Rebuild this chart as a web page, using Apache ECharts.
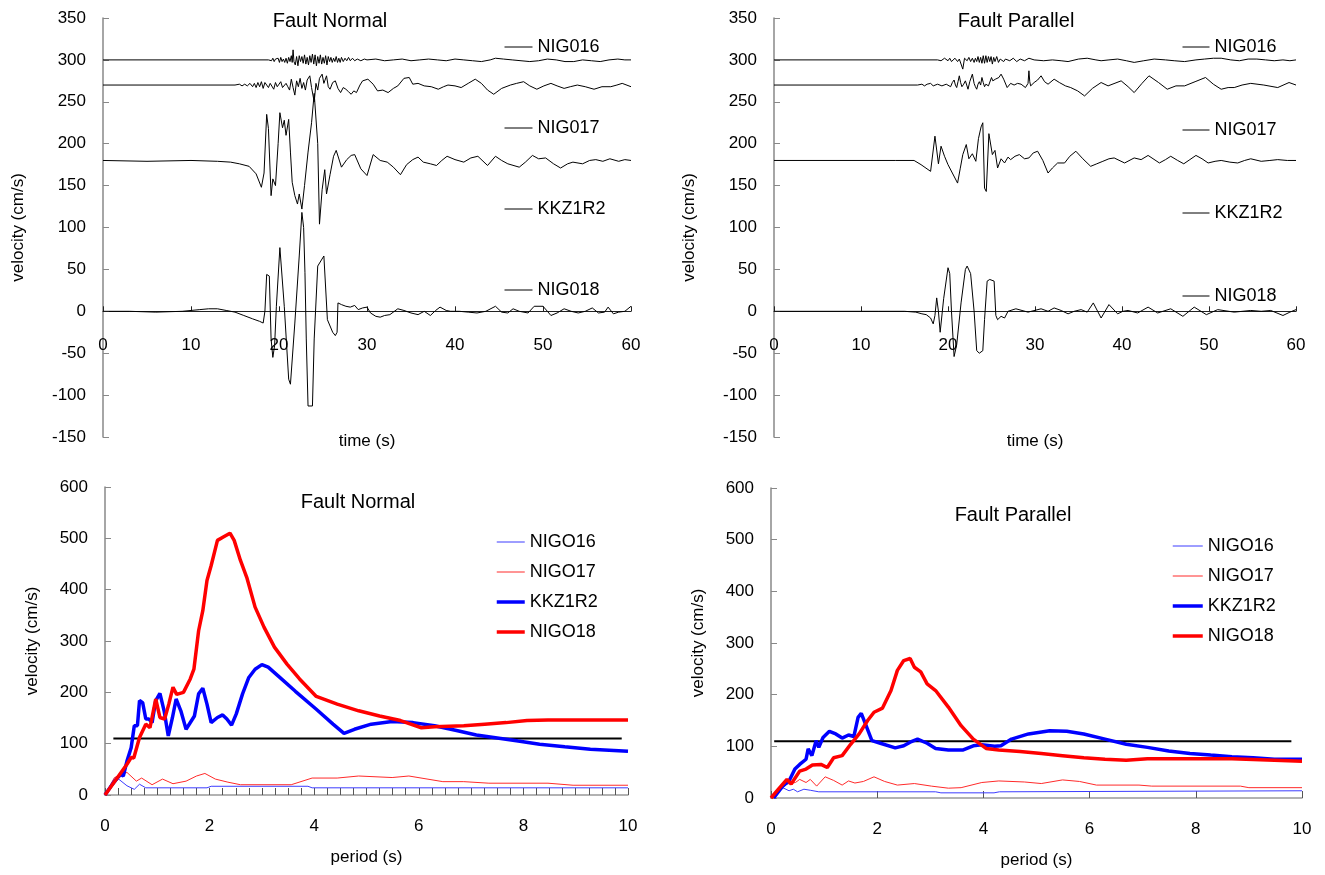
<!DOCTYPE html>
<html><head><meta charset="utf-8">
<script src="https://cdn.jsdelivr.net/npm/echarts/dist/echarts.min.js"></script>
<style>html,body{margin:0;padding:0;background:#fff;}#c{width:1325px;height:875px;}</style>
</head><body><div id="c"></div>
<script>
// ---------- DATA ----------
// Velocity time histories [time (s), velocity (cm/s)] relative to each trace's baseline
const fnNIG016 = [[0,0],[18.8,0],[19.0,1],[19.15,-1],[19.3,2],[19.45,-2],[19.6,1],[19.75,-1],[19.9,2],[20.05,-3],[20.2,3],[20.35,-2],[20.5,1],[20.65,-3],[20.8,2],[20.95,-4],[21.1,3],[21.25,-2],[21.4,5],[21.5,-3],[21.6,12],[21.7,-2],[21.85,-6],[22.0,4],[22.15,-7],[22.3,5],[22.45,-2],[22.6,4],[22.75,-4],[22.9,6],[23.05,-5],[23.2,3],[23.35,-6],[23.5,5],[23.65,-3],[23.8,7],[23.95,-5],[24.1,6],[24.25,-7],[24.4,4],[24.55,-4],[24.7,6],[24.85,-5],[25.0,3],[25.15,-4],[25.3,5],[25.45,-6],[25.6,4],[25.75,-2],[25.9,3],[26.05,-3],[26.2,2],[26.35,-2],[26.5,4],[26.65,-3],[26.8,2],[26.95,-3],[27.1,3],[27.3,-2],[27.5,2],[27.7,-1],[27.9,3],[28.1,-1],[28.35,2],[28.6,-1],[28.9,1],[29.3,-1],[29.7,1],[30,0],[31,1],[32,-1],[33,0],[34,1],[35,-1],[36,0],[37,1],[38,0],[39,-1],[40,1],[41,0],[42,-1],[43,-2],[44,0],[44.6,2],[45.5,1],[46.5,0],[47.5,-1],[48.5,-2],[49.5,-1],[50.5,1],[51.5,0],[52.5,-2],[53.5,-2],[54.5,0],[55.5,-1],[56.5,-2],[57.5,0],[58.5,1],[59.3,0],[60,0]];
const fnNIG017 = [[0,0],[15,0],[15.5,1],[15.8,-1],[16.1,1],[16.4,-1],[16.7,2],[17,-2],[17.2,2],[17.4,-3],[17.6,3],[17.8,-2],[18.0,4],[18.2,-4],[18.4,3],[18.6,5],[18.8,-3],[19.0,2],[19.2,4],[19.4,-5],[19.6,3],[19.8,-2],[20.0,1],[20.2,4],[20.4,-3],[20.6,-4],[20.8,2],[21.0,-2],[21.2,-6],[21.4,7],[21.6,-3],[21.8,-12],[22.0,5],[22.2,-2],[22.4,8],[22.6,-4],[22.8,3],[23.0,-6],[23.2,6],[23.5,11],[23.7,-3],[24.0,-20],[24.2,2],[24.4,-6],[24.6,8],[24.9,13],[25.1,2],[25.4,11],[25.6,-2],[25.8,-5],[26.1,3],[26.4,5],[26.7,-4],[27.0,-9],[27.3,-3],[27.6,-5],[27.9,-8],[28.2,-11],[28.5,-7],[28.8,-9],[29.2,0],[29.5,5],[30.1,7],[30.7,1],[31.2,-7],[31.8,-6],[32.4,-9],[33.0,-4],[33.5,-1],[34.2,8],[34.8,9],[35.2,1],[35.8,2],[36.5,-1],[37.3,-2],[38.1,-5],[38.7,-2],[39.2,0],[40.0,-1],[40.7,-3],[41.5,2],[42.3,7],[43.0,2],[43.7,-6],[44.4,-11],[45.3,-4],[46.3,0],[47.0,2],[47.8,4],[48.5,-1],[49.3,-5],[50.1,-1],[50.9,2],[51.6,-1],[52.4,-4],[53.1,-2],[53.9,0],[54.8,-2],[55.8,-5],[56.7,-2],[57.7,-2],[58.4,0],[59,2],[60,-2]];
const fnKKZ1R2 = [[0,0],[5,-1],[10,0],[13,-1],[14.5,-2],[15.5,-4],[16.6,-7],[17.4,-16],[18.0,-32],[18.3,-15],[18.6,55],[18.8,38],[19.1,-42],[19.3,-22],[19.6,-30],[19.9,20],[20.1,57],[20.4,39],[20.6,48],[20.8,30],[21.1,49],[21.3,10],[21.5,-26],[21.8,-42],[22.1,-52],[22.3,-40],[22.6,-58],[22.9,-30],[23.3,10],[23.7,45],[24.0,80],[24.2,78],[24.4,20],[24.6,-76],[24.9,-35],[25.2,-11],[25.4,-40],[25.8,-17],[26.2,5],[26.5,12],[27.1,-8],[27.7,1],[28.2,6],[28.6,7],[29.3,-10],[30,-18],[30.7,7],[31.5,0],[32.3,-2],[33.0,-8],[33.8,-17],[34.5,-5],[35.2,1],[35.8,4],[36.4,-2],[37.2,-4],[37.9,-6],[38.5,0],[39.1,5],[40,1],[41,-2],[41.8,3],[42.6,5],[43.7,-6],[44.6,5],[45.3,0],[46,-4],[47.3,-8],[48,-2],[48.8,6],[49.5,2],[50.3,3],[51.2,-4],[52,-9],[52.8,-4],[53.4,-2],[54.5,-4],[55.3,0],[56,1],[56.8,-1],[57.6,2],[58.6,-1],[59.3,1],[60,0]];
const fnNIG018 = [[0,0],[3,0],[6,-1],[9,0],[10,1],[11,2],[12,3],[13,3],[14,1],[15,-1],[16,-5],[17,-9],[17.8,-12],[18.2,-14],[18.4,0],[18.6,44],[18.9,42],[19.1,-33],[19.3,-55],[19.5,-41],[19.7,6],[20.1,76],[20.3,78],[20.6,6],[21.1,-81],[21.3,-87],[21.8,-14],[22.3,66],[22.6,118],[22.8,100],[22.95,46],[23.1,-33],[23.3,-113],[23.8,-113],[24.0,-33],[24.4,54],[25.1,66],[25.3,64],[25.5,-10],[25.7,-11],[26.1,-25],[26.4,-29],[26.6,-25],[26.7,10],[27.1,8],[27.6,6],[28.1,5],[28.6,7],[29,2],[29.5,4],[30,5],[30.4,-2],[31,-6],[31.5,-7],[32,-5],[32.6,-4],[33.5,3],[34.2,1],[35,-2],[35.8,-4],[36.5,0],[37.2,-5],[37.8,1],[38.3,5],[39,1],[39.5,0],[40.5,0],[41.5,-1],[42.5,-2],[43.5,0],[44.6,6],[45.3,-1],[46,-2],[46.6,3],[47.3,0],[48.3,-2],[49,6],[50,6],[50.5,0],[50.9,-5],[51.6,-2],[52.4,3],[53.2,0],[54,-2],[54.8,0],[55.6,4],[56.3,-2],[57,-1],[57.4,5],[58,-3],[58.6,-1],[59.3,0],[60,6]];

const fpNIG016 = [[0,0],[18.8,0],[19.0,2],[19.2,-1],[19.4,-2],[19.6,2],[19.8,3],[20.0,-1],[20.2,2],[20.4,-2],[20.6,-3],[20.8,2],[20.95,4],[21.1,-2],[21.3,1],[21.5,3],[21.7,-11],[21.9,2],[22.05,4],[22.2,-1],[22.4,3],[22.6,-2],[22.8,2],[23.0,-3],[23.15,2],[23.3,-2],[23.45,4],[23.6,-3],[23.75,3],[23.9,-4],[24.05,5],[24.2,-4],[24.35,5],[24.5,-3],[24.65,4],[24.8,-2],[24.95,4],[25.1,-5],[25.25,3],[25.4,-2],[25.6,4],[25.8,-3],[26.0,1],[26.2,2],[26.4,-2],[26.6,1],[26.8,3],[27.1,-1],[27.5,2],[27.9,-2],[28.3,1],[28.8,-1],[29.3,2],[29.9,0],[31,-1],[32,0],[33,-1],[33.8,-2],[35,1],[36,2],[37,0],[37.6,-1],[38.5,0],[39.5,1],[40.5,-1],[41.4,-3],[42.5,-1],[43.7,1],[45,0],[46,-1],[47.2,-2],[48.5,0],[49.5,1],[50.5,2],[51.4,2],[52.5,0],[53.5,-1],[54.5,1],[55.5,1],[56.5,0],[57.5,-1],[58.5,0],[59.3,-1],[60,0]];
const fpNIG017 = [[0,0],[16.5,0],[17,1],[17.3,-1],[17.6,1],[18,2],[18.3,-1],[18.5,-2],[18.8,1],[19,2],[19.3,-1],[19.5,-1],[19.8,1],[20,2],[20.3,-2],[20.5,3],[20.7,6],[20.85,0],[21.0,-3],[21.15,4],[21.3,11],[21.45,3],[21.6,-2],[21.8,1],[22.0,5],[22.15,0],[22.3,-5],[22.5,4],[22.65,2],[22.8,13],[23.0,2],[23.15,-2],[23.3,-5],[23.45,1],[23.6,4],[23.75,0],[23.9,9],[24.05,3],[24.2,-2],[24.35,1],[24.5,3],[24.65,-1],[24.8,0],[25.0,9],[25.15,5],[25.3,3],[25.45,7],[25.6,6],[25.85,9],[26.1,13],[26.4,7],[26.8,-3],[27.2,2],[27.6,0],[28.0,2],[28.4,1],[28.9,-3],[29.2,2],[29.3,17],[29.4,4],[29.5,-1],[29.9,3],[30.3,6],[30.7,11],[31.1,4],[31.5,1],[32.2,7],[32.8,3],[33.5,-1],[34.1,-3],[34.9,-7],[35.7,-13],[36.6,-4],[37.6,3],[38.4,-1],[39.9,5],[40.7,-2],[41.4,-9],[42.3,2],[43.1,11],[44.2,3],[45.2,-5],[46.2,-1],[47.2,-1],[48.4,4],[49.6,9],[50.5,1],[51.4,-5],[52.2,-3],[52.9,-3],[53.8,0],[54.8,2],[56.3,0],[57.9,-3],[59.2,3],[60,0]];
const fpKKZ1R2 = [[0,0],[10,0],[14,0],[16.1,0],[16.9,-5],[18.0,-13],[18.5,29],[18.9,-4],[19.2,17],[19.6,5],[20.0,-5],[20.5,-15],[21.1,-27],[21.4,-10],[21.7,7],[22.1,19],[22.4,2],[22.8,8],[23.2,-1],[23.5,26],[23.8,40],[24.0,45],[24.2,-33],[24.4,-37],[24.7,32],[25.1,7],[25.4,12],[25.7,-9],[26.1,2],[26.5,-3],[26.9,4],[27.2,1],[27.7,5],[28.2,7],[28.8,2],[29.3,3],[29.8,9],[30.3,11],[30.9,0],[31.5,-15],[32.0,-9],[32.6,-3],[33.4,-3],[34.0,5],[34.7,11],[35.5,2],[36.4,-7],[37.1,-4],[37.8,-1],[38.5,2],[39.1,3],[40.3,-3],[41.4,3],[42.2,1],[43.0,6],[44.3,-3],[45.0,1],[45.6,5],[46.4,0],[47.1,-4],[47.8,1],[48.5,6],[49.2,2],[49.9,-3],[50.7,-1],[51.4,0],[52.4,-2],[53.3,-3],[54.1,0],[54.8,2],[56.0,-1],[57.0,0],[57.9,1],[59,0],[60,0]];
const fpNIG018 = [[0,0],[12,0],[15,0],[16.3,-1],[17.0,-3],[17.5,-4],[18.0,-8],[18.3,-15],[18.5,-5],[18.7,16],[18.9,0],[19.1,-25],[19.5,15],[20.0,52],[20.2,45],[20.4,0],[20.7,-54],[21.0,-40],[21.5,10],[22.0,50],[22.2,54],[22.6,45],[23.0,0],[23.3,-47],[23.6,-50],[24.0,-47],[24.2,-10],[24.5,36],[24.8,38],[25.3,36],[25.5,-5],[25.7,-10],[26.1,-6],[26.5,-8],[26.9,0],[27.8,3],[29.2,-1],[30.7,3],[31.5,0],[32.2,4],[33.0,1],[33.8,-3],[34.5,0],[35.3,2],[36.0,-1],[36.7,10],[37.6,-8],[38.5,8],[39.5,-3],[40.1,0],[40.7,1],[41.8,-2],[43,5],[44.1,-2],[45.6,3],[47,-6],[48.3,5],[49.7,-4],[51,2],[52.9,-1],[54.8,1],[56,0],[57.1,1],[58.5,-5],[59.3,-1],[60,2]];

const traceNames = ['NIG016', 'NIG017', 'KKZ1R2', 'NIG018'];
const traceOffsets = [300, 270, 180, 0];   // vertical shift of each trace (cm/s)
const fnTraces = [fnNIG016, fnNIG017, fnKKZ1R2, fnNIG018];
const fpTraces = [fpNIG016, fpNIG017, fpKKZ1R2, fpNIG018];

// Velocity response spectra [period (s), velocity (cm/s)]
const fnSpecNIGO16 = [[0,0],[0.26,31],[0.42,18],[0.56,11],[0.66,21],[0.78,14],[1.95,14],[2.03,17],[3.88,17],[3.96,14],[10,14]];
const fnSpecNIGO17 = [[0,0],[0.18,34],[0.42,44],[0.6,27],[0.7,33],[0.9,20],[1.1,31],[1.3,22],[1.55,27],[1.75,37],[1.91,42],[2.11,31],[2.35,25],[2.59,20],[3.56,20],[3.96,33],[4.44,33],[4.85,37],[5.49,34],[5.81,37],[6.46,26],[6.86,26],[7.34,23],[8.47,23],[8.95,19],[10,19]];
const fnSpecKKZ1R2 = [[0,0],[0.18,27],[0.3,40],[0.35,37],[0.42,66],[0.5,92],[0.56,135],[0.62,135],[0.66,184],[0.72,180],[0.78,148],[0.84,148],[0.9,141],[0.97,184],[1.05,198],[1.13,164],[1.21,115],[1.29,151],[1.36,187],[1.45,164],[1.55,128],[1.71,154],[1.79,197],[1.87,208],[1.95,177],[2.03,141],[2.15,151],[2.25,156],[2.33,148],[2.42,136],[2.51,158],[2.63,197],[2.75,229],[2.87,245],[3.0,254],[3.12,249],[3.32,231],[3.64,202],[4.04,167],[4.36,138],[4.57,120],[4.77,128],[5.09,138],[5.49,143],[5.89,141],[6.3,135],[6.7,126],[7.1,117],[7.5,111],[7.9,105],[8.31,99],[8.79,94],[9.28,89],[10,85]];
const fnSpecNIGO18 = [[0,0],[0.42,60],[0.5,73],[0.55,72],[0.66,112],[0.78,138],[0.86,131],[0.97,187],[1.05,151],[1.14,148],[1.22,177],[1.3,210],[1.37,196],[1.5,200],[1.63,226],[1.7,245],[1.79,320],[1.87,359],[1.95,418],[2.03,447],[2.15,496],[2.27,503],[2.39,510],[2.47,496],[2.59,457],[2.71,424],[2.87,366],[3.04,327],[3.24,288],[3.48,255],[3.72,226],[4.04,192],[4.44,177],[4.85,164],[5.25,154],[5.65,145],[6.05,131],[6.3,133],[6.86,135],[7.26,138],[7.67,141],[8.07,145],[8.47,146],[10,146]];

const fpSpecNIGO16 = [[0,0],[0.22,20],[0.34,14],[0.42,17],[0.5,12],[0.62,17],[0.74,15],[0.9,12],[3.1,12],[3.2,10],[4.2,10],[4.3,12],[10,14]];
const fpSpecNIGO17 = [[0,0],[0.3,27],[0.46,30],[0.54,36],[0.66,30],[0.74,36],[0.86,23],[1.02,41],[1.18,34],[1.34,25],[1.46,33],[1.58,29],[1.74,32],[1.94,41],[2.14,32],[2.38,25],[2.7,28],[3.02,23],[3.34,19],[3.58,20],[3.97,30],[4.29,33],[4.77,31],[5.09,28],[5.49,35],[5.81,32],[6.13,25],[6.93,25],[7.17,23],[8.84,23],[9.0,20],[10,20]];
const fpSpecKKZ1R2 = [[0.05,0],[0.22,23],[0.34,33],[0.45,56],[0.54,65],[0.66,75],[0.7,95],[0.77,82],[0.85,111],[0.9,98],[0.98,117],[1.1,129],[1.22,124],[1.34,116],[1.46,122],[1.56,119],[1.64,156],[1.7,164],[1.78,143],[1.9,111],[2.06,106],[2.34,97],[2.5,101],[2.62,108],[2.76,114],[2.94,106],[3.1,96],[3.34,93],[3.62,93],[3.81,101],[3.97,103],[4.21,100],[4.33,101],[4.53,114],[4.85,124],[5.25,130],[5.57,129],[5.89,124],[6.29,114],[6.69,104],[7.09,98],[7.49,91],[7.89,86],[8.28,83],[8.68,80],[9.08,78],[9.48,75],[10,75]];
const fpSpecNIGO18 = [[0,0],[0.14,17],[0.3,36],[0.38,27],[0.54,52],[0.66,56],[0.78,64],[0.94,65],[1.06,59],[1.18,78],[1.34,82],[1.5,104],[1.66,124],[1.82,150],[1.94,166],[2.1,174],[2.26,208],[2.38,247],[2.5,266],[2.62,270],[2.7,253],[2.82,244],[2.94,221],[3.1,208],[3.34,176],[3.58,140],[3.81,114],[4.05,96],[4.29,93],[4.69,90],[5.09,86],[5.49,82],[5.89,78],[6.29,75],[6.69,73],[7.09,76],[7.89,76],[8.68,76],[9.48,73],[10,71]];

const specNames = ['NIGO16', 'NIGO17', 'KKZ1R2', 'NIGO18'];
const fnSpecs = [fnSpecNIGO16, fnSpecNIGO17, fnSpecKKZ1R2, fnSpecNIGO18];
const fpSpecs = [fpSpecNIGO16, fpSpecNIGO17, fpSpecKKZ1R2, fpSpecNIGO18];
const fnRefLine = [[0.16,110],[9.88,110]];
const fpRefLine = [[0.06,110],[9.8,110]];

const topTicks = {min: -150, max: 350, interval: 50};
const timeTicks = {min: 0, max: 60, interval: 10};
const specYTicks = {min: 0, max: 600, interval: 100};
const periodTicks = {min: 0, max: 10, interval: 2};

// ---------- STYLE ----------
const FONT = '"Liberation Sans", Arial, Helvetica, sans-serif';
const specColors = ['#3c3cff', '#ff2a2a', '#0000ff', '#ff0000'];
const specWidths = [1, 1, 3.5, 3.5];
const txt = (size) => ({fontSize: size, color: '#000', fontFamily: FONT, fontWeight: 'normal'});

const chart = echarts.init(document.getElementById('c'), null, {renderer: 'canvas'});

function topX(gi) {
  return {
    gridIndex: gi, type: 'value', ...timeTicks,
    axisLine: {show: true, onZero: true, lineStyle: {color: '#222', width: 1}},
    axisTick: {show: true, inside: true, length: 5, lineStyle: {color: '#222'}},
    axisLabel: {margin: -100, ...txt(17)},
    splitLine: {show: false},
    name: 'time (s)', nameLocation: 'middle', nameGap: -4, nameTextStyle: txt(17)
  };
}
function topY(gi) {
  return {
    gridIndex: gi, type: 'value', ...topTicks,
    axisLine: {show: true, onZero: false, lineStyle: {color: '#888', width: 1.5}},
    axisTick: {show: true, inside: true, length: 6, lineStyle: {color: '#888'}},
    axisLabel: {margin: 17, ...txt(17)},
    splitLine: {show: false},
    name: 'velocity (cm/s)', nameLocation: 'middle', nameGap: 76, nameRotate: 90, nameTextStyle: txt(17)
  };
}
function botX(gi, minor) {
  return {
    gridIndex: gi, type: 'value', ...periodTicks,
    axisLine: {show: true, onZero: false, lineStyle: {color: '#999', width: 1.5}},
    axisTick: {show: true, inside: true, length: 7, lineStyle: {color: '#555'}},
    minorTick: {show: minor, splitNumber: 8, length: 7, lineStyle: {color: '#555'}},
    axisLabel: {margin: 23, ...txt(17)},
    splitLine: {show: false},
    name: 'period (s)', nameLocation: 'middle', nameGap: 54, nameTextStyle: txt(17)
  };
}
function botY(gi) {
  return {
    gridIndex: gi, type: 'value', ...specYTicks,
    axisLine: {show: true, onZero: false, lineStyle: {color: '#888', width: 1.5}},
    axisTick: {show: true, inside: true, length: 6, lineStyle: {color: '#888'}},
    axisLabel: {margin: 17, ...txt(17)},
    splitLine: {show: false},
    name: 'velocity (cm/s)', nameLocation: 'middle', nameGap: 64, nameRotate: 90, nameTextStyle: txt(17)
  };
}

const series = [];
function addTraces(traces, gi) {
  traces.forEach((tr, i) => {
    series.push({
      type: 'line', name: traceNames[i], xAxisIndex: gi, yAxisIndex: gi,
      data: tr.map(p => [p[0], p[1] + traceOffsets[i]]),
      symbol: 'none', smooth: false, silent: true,
      lineStyle: {color: '#000', width: 1}, itemStyle: {color: '#000'}
    });
  });
}
function addSpecs(specs, ref, gi) {
  series.push({
    type: 'line', name: 'ref', xAxisIndex: gi, yAxisIndex: gi, data: ref,
    symbol: 'none', silent: true, lineStyle: {color: '#000', width: 2}, itemStyle: {color: '#000'}, z: 1
  });
  specs.forEach((sp, i) => {
    series.push({
      type: 'line', name: specNames[i], xAxisIndex: gi, yAxisIndex: gi, data: sp,
      symbol: 'none', smooth: false, silent: true,
      lineStyle: {color: specColors[i], width: specWidths[i]}, itemStyle: {color: specColors[i]},
      z: i >= 2 ? 3 : 2
    });
  });
}
addTraces(fnTraces, 0);
addTraces(fpTraces, 1);
addSpecs(fnSpecs, fnRefLine, 2);
addSpecs(fpSpecs, fpRefLine, 3);

function topLegend(left, top, gap, w) {
  return {
    left: left, top: top, orient: 'vertical', itemGap: gap, itemWidth: w, itemHeight: 14,
    selectedMode: false, padding: 0, textStyle: txt(18),
    itemStyle: {opacity: 0},
    data: traceNames.map(n => ({name: n, lineStyle: {color: '#000', width: 1}}))
  };
}
function botLegend(left, top, gap, w) {
  return {
    left: left, top: top, orient: 'vertical', itemGap: gap, itemWidth: w, itemHeight: 14,
    selectedMode: false, padding: 0, textStyle: txt(18),
    itemStyle: {opacity: 0},
    data: specNames.map((n, i) => ({name: n, lineStyle: {color: specColors[i], width: specWidths[i]}}))
  };
}

const option = {
  animation: false,
  backgroundColor: '#fff',
  textStyle: {fontFamily: FONT},
  title: [
    {text: 'Fault Normal', left: 330, top: 11, textAlign: 'center', padding: 0, textStyle: txt(20)},
    {text: 'Fault Parallel', left: 1016, top: 11, textAlign: 'center', padding: 0, textStyle: txt(20)},
    {text: 'Fault Normal', left: 358, top: 492, textAlign: 'center', padding: 0, textStyle: txt(20)},
    {text: 'Fault Parallel', left: 1013, top: 505, textAlign: 'center', padding: 0, textStyle: txt(20)}
  ],
  grid: [
    {left: 103, top: 18, width: 528, height: 419, containLabel: false, outerBoundsMode: 'none'},
    {left: 774, top: 18, width: 522, height: 419, containLabel: false, outerBoundsMode: 'none'},
    {left: 105, top: 487, width: 523, height: 308, containLabel: false, outerBoundsMode: 'none'},
    {left: 771, top: 488, width: 531, height: 310, containLabel: false, outerBoundsMode: 'none'}
  ],
  xAxis: [topX(0), topX(1), botX(2, true), botX(3, false)],
  yAxis: [topY(0), topY(1), botY(2), botY(3)],
  legend: [
    topLegend(504, 38, 63, 28),
    topLegend(1182, 38, 65, 27),
    botLegend(495, 533, 12, 28),
    botLegend(1171, 537, 12, 30)
  ],
  series: series
};
chart.setOption(option);
</script></body></html>
